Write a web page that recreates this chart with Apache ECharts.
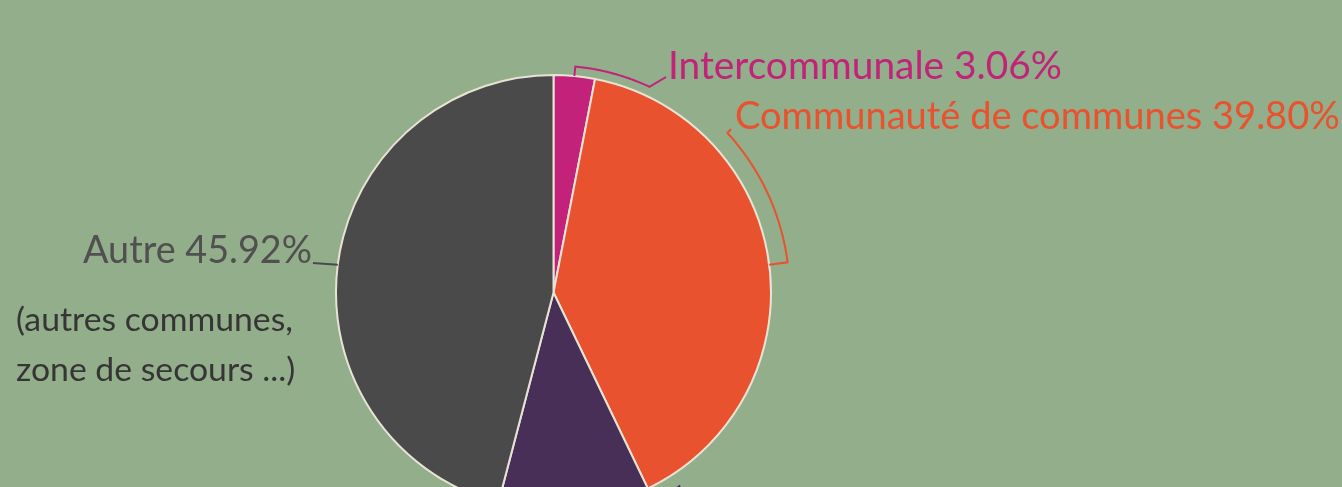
<!DOCTYPE html>
<html><head><meta charset="utf-8">
<script src="https://cdn.jsdelivr.net/npm/echarts@6/dist/echarts.min.js"></script>
<style>html,body{margin:0;padding:0;background:#93ae8a;overflow:hidden}#c{width:1342px;height:487px;}</style>
</head><body><div id="c"></div>
<script>
// ---- data ----
const categories = ['Intercommunale', 'Communauté de communes', 'Commune', 'Autre'];
const values = [3.06, 39.80, 11.22, 45.92];
const autreNote = ['(autres communes,', 'zone de secours ...)'];

// ---- styles / layout ----
const colors = ['#c2227a', '#e8522e', '#472f58', '#4a4a4a'];
const labelColors = ['#c2227a', '#e8522e', '#472f58', '#505050'];
const FONT = 'Lato';
const CX = 553.5, CY = 292.5, R = 217.5;
const labelAnchor = [
  {x: 668, y: 78, align: 'left', w: 394},
  {x: 735, y: 128, align: 'left', w: 605},
  {x: 705, y: 560, align: 'left', w: 300},
  {x: 312, y: 262, align: 'right', w: 229}
];
const bracket = [
  {r: 227, end: 25, tail: [666, 77]},
  {r: 236, end: 47.5, tail: [731, 129]},
  {r: 231, end: 147, tail: [700, 530]},
  {r: null, tail: [313, 263]}
];

function fitSize(text, target, weight) {
  const c = document.createElement('canvas').getContext('2d');
  c.font = (weight || 'normal') + ' 40px ' + FONT;
  return 40 * target / c.measureText(text).width;
}
const labelText = i => categories[i] + ' ' + values[i].toFixed(2) + '%';
const FSs = labelAnchor.map((a, i) => fitSize(labelText(i), a.w));
const FS2 = fitSize(autreNote[0], 277);

const total = values.reduce((a, b) => a + b, 0);
const mids = [];
let acc = 0;
values.forEach(v => { mids.push((acc + v / 2) / total * 360); acc += v; });
const pt = (deg, r) => [CX + r * Math.sin(deg * Math.PI / 180), CY - r * Math.cos(deg * Math.PI / 180)];

const graphics = [];
bracket.forEach((b, i) => {
  const pts = [pt(mids[i], R)];
  if (b.r) {
    const a0 = mids[i], a1 = b.end, n = 40;
    for (let k = 0; k <= n; k++) pts.push(pt(a0 + (a1 - a0) * k / n, b.r));
  }
  pts.push(b.tail);
  graphics.push({type: 'polyline', silent: true, z: 10,
    shape: {points: pts}, style: {stroke: colors[i], lineWidth: 2, fill: null}});
});
autreNote.forEach((t, k) => {
  graphics.push({type: 'text', silent: true, z: 10, x: 16, y: 330 + 50 * k - 0.3 * FS2,
    style: {text: t, fill: '#353535', font: FS2.toFixed(2) + 'px ' + FONT, verticalAlign: 'middle', align: 'left'}});
});

const chart = echarts.init(document.getElementById('c'), null, {renderer: 'canvas'});
chart.setOption({
  backgroundColor: '#93ae8a',
  animation: false,
  graphic: graphics,
  series: [{
    type: 'pie',
    center: [CX, CY],
    radius: R,
    startAngle: 90,
    clockwise: true,
    avoidLabelOverlap: false,
    silent: true,
    itemStyle: {borderColor: '#e7e4d6', borderWidth: 2},
    labelLine: {show: false},
    label: {show: true, position: 'outside', fontFamily: FONT,
      formatter: p => labelText(p.dataIndex)},
    labelLayout: p => {
      const a = labelAnchor[p.dataIndex];
      return {x: a.x, y: a.y - 0.3 * FSs[p.dataIndex], align: a.align, verticalAlign: 'middle'};
    },
    data: categories.map((c, i) => ({name: c, value: values[i],
      itemStyle: {color: colors[i]}, label: {color: labelColors[i], fontSize: FSs[i]}}))
  }]
});
</script>
</body></html>
